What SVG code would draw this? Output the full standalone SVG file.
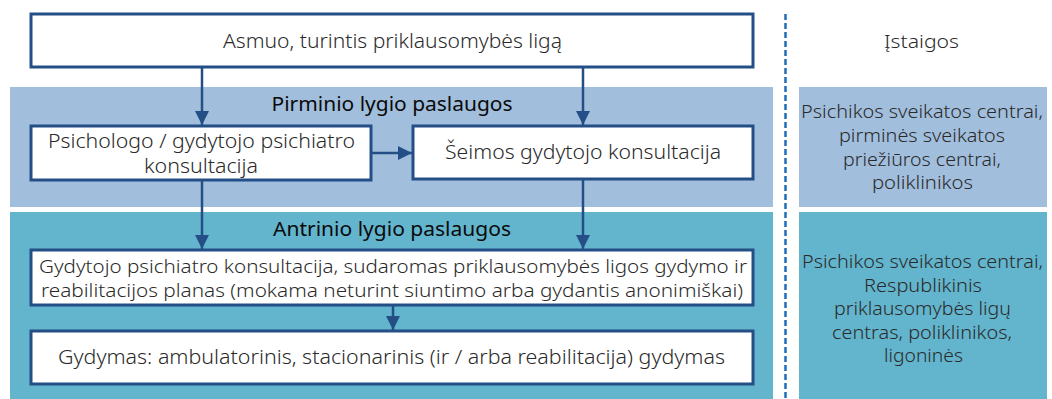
<svg xmlns="http://www.w3.org/2000/svg" width="1052" height="399" viewBox="0 0 1052 399">
<defs>
<style>
.t{font-family:"Noto Sans","Open Sans",sans-serif;font-size:20px;font-weight:300;fill:#2a2a2a;text-anchor:middle}
.r{font-size:18px}
.s{font-size:19px}
.h{font-family:"Noto Sans","Open Sans",sans-serif;font-size:20.6px;font-weight:400;fill:#0a0a0a;text-anchor:middle}
.box{fill:#fff;stroke:#244f86;stroke-width:3}
.c{stroke:#244f86;stroke-width:2.5;fill:none;marker-end:url(#ah)}
</style>
<marker id="ah" viewBox="0 0 10 10" refX="10" refY="5" markerWidth="5.6" markerHeight="5.6" orient="auto" markerUnits="strokeWidth">
<path d="M0,0 L10,5 L0,10 Z" fill="#244f86"/>
</marker>
</defs>
<rect width="1052" height="399" fill="#fff"/>
<g id="bands">
<rect x="10" y="87" width="763" height="120" fill="#a1bedc"/>
<rect x="10" y="212" width="763" height="187" fill="#63b4cd"/>
<rect x="799" y="87" width="248" height="120" fill="#a1bedc"/>
<rect x="799" y="212" width="248" height="187" fill="#63b4cd"/>
<line x1="785.5" y1="14" x2="785.5" y2="399" stroke="#1f6db5" stroke-width="2.5" stroke-dasharray="6,3"/>
</g>
<g id="headers">
<text class="h" x="392" y="111" textLength="241" lengthAdjust="spacingAndGlyphs">Pirminio lygio paslaugos</text>
<text class="h" x="392" y="236" textLength="238" lengthAdjust="spacingAndGlyphs">Antrinio lygio paslaugos</text>
<text class="t r" x="921.5" y="48" textLength="75" lengthAdjust="spacingAndGlyphs">Įstaigos</text>
</g>
<g id="node-asmuo">
<rect class="box" x="31" y="14" width="722" height="53"/>
<text class="t" x="392.5" y="47.5" textLength="339" lengthAdjust="spacingAndGlyphs">Asmuo, turintis priklausomybės ligą</text>
</g>
<g id="node-psich">
<rect class="box" x="31" y="126" width="340" height="54"/>
<text class="t" x="201.5" y="148" textLength="307" lengthAdjust="spacingAndGlyphs">Psichologo / gydytojo psichiatro</text>
<text class="t" x="201" y="173" textLength="114" lengthAdjust="spacingAndGlyphs">konsultacija</text>
</g>
<g id="node-seimos">
<rect class="box" x="413" y="126" width="340" height="53"/>
<text class="t" x="583" y="159" textLength="276" lengthAdjust="spacingAndGlyphs">Šeimos gydytojo konsultacija</text>
</g>
<g id="node-antrinis">
<rect class="box" x="31" y="250" width="722" height="55"/>
<text class="t s" x="393" y="272.5" textLength="708" lengthAdjust="spacingAndGlyphs">Gydytojo psichiatro konsultacija, sudaromas priklausomybės ligos gydymo ir</text>
<text class="t s" x="392" y="297" textLength="702" lengthAdjust="spacingAndGlyphs">reabilitacijos planas (mokama neturint siuntimo arba gydantis anonimiškai)</text>
</g>
<g id="node-gydymas">
<rect class="box" x="31" y="331" width="722" height="53"/>
<text class="t" x="391.5" y="364" textLength="667" lengthAdjust="spacingAndGlyphs">Gydymas: ambulatorinis, stacionarinis (ir / arba reabilitacija) gydymas</text>
</g>
<g id="node-istaigos1">
<text class="t r" x="922" y="118" textLength="242" lengthAdjust="spacingAndGlyphs">Psichikos sveikatos centrai,</text>
<text class="t r" x="922" y="142" textLength="166" lengthAdjust="spacingAndGlyphs">pirminės sveikatos</text>
<text class="t r" x="922" y="165.5" textLength="158" lengthAdjust="spacingAndGlyphs">priežiūros centrai,</text>
<text class="t r" x="922.5" y="189" textLength="101" lengthAdjust="spacingAndGlyphs">poliklinikos</text>
</g>
<g id="node-istaigos2">
<text class="t r" x="922.5" y="268" textLength="241" lengthAdjust="spacingAndGlyphs">Psichikos sveikatos centrai,</text>
<text class="t r" x="923" y="291.5" textLength="118" lengthAdjust="spacingAndGlyphs">Respublikinis</text>
<text class="t r" x="922.5" y="315" textLength="177" lengthAdjust="spacingAndGlyphs">priklausomybės ligų</text>
<text class="t r" x="922" y="338.5" textLength="180" lengthAdjust="spacingAndGlyphs">centras, poliklinikos,</text>
<text class="t r" x="923.5" y="362" textLength="79" lengthAdjust="spacingAndGlyphs">ligoninės</text>
</g>
<g id="connectors">
<line class="c" x1="202" y1="68" x2="202" y2="125"/>
<line class="c" x1="583" y1="68" x2="583" y2="125"/>
<line class="c" x1="372" y1="153" x2="412" y2="153"/>
<line class="c" x1="202" y1="181" x2="202" y2="249"/>
<line class="c" x1="583" y1="180" x2="583" y2="249"/>
<line class="c" x1="393" y1="306" x2="393" y2="330"/>
</g>
</svg>
